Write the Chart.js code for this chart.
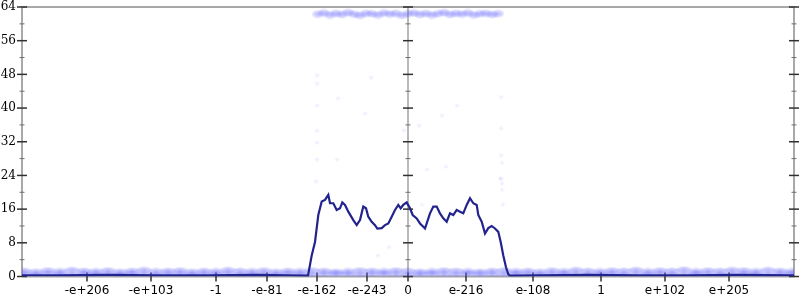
<!DOCTYPE html>
<html>
<head>
<meta charset="utf-8">
<script src="https://cdn.jsdelivr.net/npm/chart.js@4/dist/chart.umd.min.js"></script>
<style>
  html, body { margin: 0; padding: 0; background: #ffffff; }
  #wrap { width: 800px; height: 300px; }
</style>
</head>
<body>
<div id="wrap"><canvas id="chart"></canvas></div>
<script>
// x tick positions (zero axis in the middle) and their labels
let tickPos = [-321, -257, -192, -141, -91, -41, 0, 58, 125, 193, 257, 321];
let tickLabels = ['-e+206', '-e+103', '-1', '-e-81', '-e-162', '-e-243', '0', 'e-216', 'e-108', '1', 'e+102', 'e+205'];

// main curve
let lineX = [-386, -350, -300, -250, -200, -150, -120, -100,
  -99.7, -96.3, -93, -89.7, -86.3, -83, -79.7, -78, -74.7, -71.3, -68, -65.7, -63, -59.7,
  -54.7, -51.3, -48, -44.7, -42, -39.7, -36.3, -33, -30.7, -26.3, -23, -19.7, -16.3, -13,
  -9.7, -7.3, -4.7, -1.3, 2, 4.7, 8.7, 12, 15.3, 17, 18.7, 22, 25.3, 28.7, 32, 35.3, 38.7,
  42, 45.3, 48.7, 52, 55.3, 58.7, 62, 65.3, 68.7, 70.3, 73.7, 77, 80.3, 83.7, 87, 90.3,
  92.7, 95.3, 98, 100.3, 102, 130, 180, 230, 280, 330, 386];
let lineY = [0.3, 0.3, 0.4, 0.3, 0.3, 0.4, 0.3, 0.2,
  0.2, 5.0, 8.2, 14.6, 17.8, 18.2, 19.4, 17.4, 17.4, 15.8, 16.2, 17.6, 17.0, 15.4,
  13.4, 12.2, 13.4, 16.6, 16.2, 14.2, 13.0, 12.2, 11.4, 11.5, 12.2, 12.6, 14.2, 15.8,
  17.0, 16.2, 17.0, 17.6, 16.2, 14.6, 13.8, 12.6, 11.8, 11.4, 12.6, 15.0, 16.6, 16.6, 15.0, 13.8, 13.0,
  15.0, 14.6, 15.8, 15.4, 15.0, 17.0, 18.6, 17.4, 17.0, 14.6, 13.0, 10.2, 11.5, 12.0, 11.4, 10.6,
  8.2, 5.0, 2.2, 0.5, 0.2, 0.3, 0.4, 0.3, 0.3, 0.4, 0.3];

// faint scatter band along the bottom
let bandX = [-384, -372, -360, -348, -336, -324, -312, -300, -288, -276, -264, -252, -240, -228, -216, -204,
  -192, -180, -168, -156, -144, -132, -120, -108, -96, -84, -72, -60, -48, -36, -24, -12, 0, 12, 24, 36,
  48, 60, 72, 84, 96, 108, 120, 132, 144, 156, 168, 180, 192, 204, 216, 228, 240, 252, 264, 276, 288, 300,
  312, 324, 336, 348, 360, 372, 384];
let bandLow = [0.5, 0.4, 0.6, 0.5, 0.4, 0.6, 0.5, 0.5, 0.4, 0.6,
  0.5, 0.4, 0.5, 0.6, 0.4, 0.5, 0.5, 0.6, 0.4, 0.5,
  0.5, 0.4, 0.6, 0.5, 0.4, 0.5, 0.6, 0.5, 0.4, 0.5,
  0.6, 0.5, 0.4, 0.5, 0.6, 0.5, 0.4, 0.6, 0.5, 0.5,
  0.4, 0.6, 0.5, 0.4, 0.5, 0.6, 0.5, 0.4, 0.5, 0.6,
  0.4, 0.5, 0.5, 0.6, 0.4, 0.5, 0.6, 0.5, 0.4, 0.5,
  0.6, 0.5, 0.4, 0.5, 0.6];
let bandHigh = [1.3, 1.1, 1.4, 1.2, 1.5, 1.3, 1.2, 1.4, 1.1, 1.3,
  1.5, 1.2, 1.3, 1.4, 1.1, 1.3, 1.2, 1.5, 1.3, 1.2,
  1.4, 1.1, 1.3, 1.2, 1.4, 1.3, 1.1, 1.2, 1.4, 1.3,
  1.2, 1.4, 1.3, 1.1, 1.2, 1.4, 1.3, 1.2, 1.1, 1.3,
  1.4, 1.2, 1.3, 1.1, 1.4, 1.2, 1.5, 1.3, 1.2, 1.4,
  1.3, 1.5, 1.2, 1.4, 1.3, 1.6, 1.2, 1.4, 1.3, 1.5,
  1.4, 1.2, 1.5, 1.3, 1.2];

// faint band near the top
let topX = [-90, -84, -78, -72, -66, -60, -54, -48, -42, -36, -30, -24, -18, -12, -6, 0,
  6, 12, 18, 24, 30, 36, 42, 48, 54, 60, 66, 72, 78, 84, 90];
let topY = [62.3, 62.6, 62.1, 62.5, 62.2, 62.7, 62.3, 62.0, 62.5, 62.4,
  62.1, 62.6, 62.3, 62.5, 62.0, 62.4, 62.6, 62.2, 62.5, 62.1,
  62.4, 62.7, 62.2, 62.5, 62.3, 62.6, 62.1, 62.4, 62.5, 62.2, 62.4];

// stray points in the middle
let sparseX = [-91, -91, -37, -70, -91, -43, -91, -91, -91, -71, -92, -4, 11, 34, 49, 93, 93, 93, 94, 19, 38, 93, 94, 94, -19, -30, 14, 95, 92];
let sparseY = [47.8, 45.8, 47.2, 42.3, 40.6, 38.7, 34.6, 31.8, 27.8, 27.8, 22.6, 34.7, 35.8, 38.2, 40.6, 42.6, 35.2, 28.8, 27.0, 25.4, 26.1, 23.2, 22.1, 20.6, 7.0, 5.0, 17.0, 17.1, 23.3];

function pts(xs, ys) {
    return xs.map(function(v, i) { return {x: v, y: ys[i]}; });
}

// soft blurred blob used as point style for the faint scatter
function blob(w, h, alpha) {
    let c = document.createElement('canvas');
    c.width = w;
    c.height = h;
    let g = c.getContext('2d');
    g.translate(w / 2, h / 2);
    g.scale(w / 2, h / 2);
    let grad = g.createRadialGradient(0, 0, 0, 0, 0, 1);
    grad.addColorStop(0, 'rgba(90, 90, 250, ' + alpha + ')');
    grad.addColorStop(0.6, 'rgba(90, 90, 250, ' + (alpha * 0.6) + ')');
    grad.addColorStop(1, 'rgba(90, 90, 250, 0)');
    g.fillStyle = grad;
    g.beginPath();
    g.arc(0, 0, 1, 0, Math.PI * 2);
    g.fill();
    return c;
}

// gnuplot style frame: gray border, zero axis, crossing tick marks
const frame = {
    id: 'frame',
    beforeDatasetsDraw(chart) {
        const ctx = chart.ctx;
        const a = chart.chartArea;
        const x = chart.scales.x;
        const y = chart.scales.y;
        const x0 = x.getPixelForValue(0);
        ctx.save();

        ctx.strokeStyle = '#a8a8a8';
        ctx.lineWidth = 2;
        ctx.beginPath();
        ctx.moveTo(a.left, a.bottom);
        ctx.lineTo(a.left, a.top);
        ctx.lineTo(a.right, a.top);
        ctx.lineTo(a.right, a.bottom);
        ctx.lineTo(a.left, a.bottom);
        ctx.stroke();

        ctx.strokeStyle = '#8a8a8a';
        ctx.lineWidth = 1.2;
        ctx.beginPath();
        ctx.moveTo(x0, a.top);
        ctx.lineTo(x0, a.bottom);
        ctx.stroke();

        let cols = [a.left, x0, a.right];
        ctx.strokeStyle = '#303030';
        ctx.lineWidth = 1.5;
        y.ticks.forEach(function(t, i) {
            let py = y.getPixelForValue(t.value);
            cols.forEach(function(cx) {
                ctx.beginPath();
                ctx.moveTo(cx - 5, py);
                ctx.lineTo(cx + 5, py);
                ctx.stroke();
            });
            if (i < y.ticks.length - 1) {
                let pm = y.getPixelForValue((t.value + y.ticks[i + 1].value) / 2);
                ctx.save();
                ctx.strokeStyle = '#707070';
                ctx.lineWidth = 1;
                cols.forEach(function(cx) {
                    ctx.beginPath();
                    ctx.moveTo(cx - 2.5, pm);
                    ctx.lineTo(cx + 2.5, pm);
                    ctx.stroke();
                });
                ctx.restore();
            }
        });

        x.ticks.forEach(function(t) {
            let px = x.getPixelForValue(t.value);
            ctx.beginPath();
            ctx.moveTo(px, a.bottom - 4);
            ctx.lineTo(px, a.bottom + 5);
            ctx.stroke();
        });
        ctx.restore();
    }
};

new Chart(document.getElementById('chart'), {
    type: 'scatter',
    data: {
        datasets: [
            // curve
            {
                data: pts(lineX, lineY),
                showLine: true,
                borderColor: '#23238e',
                borderWidth: 2.2,
                pointRadius: 0,
                tension: 0
            },
            // bottom band
            {
                data: pts(bandX, bandLow).concat(pts(bandX, bandHigh)),
                pointStyle: blob(18, 8, 0.45),
                pointRadius: 4
            },
            // top band
            {
                data: pts(topX, topY),
                pointStyle: blob(14, 9, 0.4),
                pointRadius: 4
            },
            // stray points
            {
                data: pts(sparseX, sparseY),
                pointStyle: blob(5, 5, 0.12),
                pointRadius: 3
            }
        ]
    },
    options: {
        responsive: true,
        maintainAspectRatio: false,
        animation: false,
        layout: {
            padding: { top: 7, right: 6, left: 0, bottom: 0 }
        },
        plugins: {
            legend: { display: false },
            tooltip: { enabled: false }
        },
        scales: {
            x: {
                type: 'linear',
                min: -386,
                max: 386,
                afterBuildTicks: function(scale) {
                    scale.ticks = tickPos.map(function(v) { return {value: v}; });
                },
                afterFit: function(scale) {
                    scale.height = 23.5;
                    scale.paddingLeft = 0;
                    scale.paddingRight = 0;
                },
                grid: { display: false, drawTicks: false },
                border: { display: false },
                ticks: {
                    autoSkip: false,
                    maxRotation: 0,
                    padding: 7,
                    color: '#000000',
                    font: { family: 'DejaVu Sans', size: 12 },
                    callback: function(value) {
                        let i = tickPos.indexOf(value);
                        return i >= 0 ? tickLabels[i] : '';
                    }
                }
            },
            y: {
                min: 0,
                max: 64,
                afterFit: function(scale) {
                    scale.width = 22;
                    scale.paddingTop = 0;
                    scale.paddingBottom = 0;
                },
                grid: { display: false, drawTicks: false },
                border: { display: false },
                ticks: {
                    stepSize: 8,
                    padding: 6,
                    color: '#000000',
                    font: { family: 'DejaVu Serif', size: 12, lineHeight: 1 }
                }
            }
        }
    },
    plugins: [frame]
});
</script>
</body>
</html>
